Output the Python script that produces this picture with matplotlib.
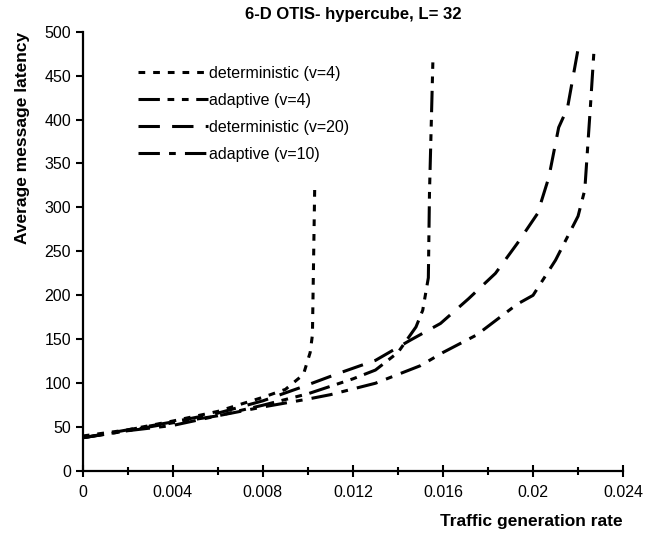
import numpy as np
import matplotlib.pyplot as plt
from matplotlib.ticker import MultipleLocator

plt.rcParams['font.family'] = ['Liberation Sans', 'DejaVu Sans']

# deterministic (v=4)
det4_x = [0, 0.002, 0.004, 0.006, 0.008, 0.009, 0.0098, 0.0101, 0.0102, 0.0103]
det4_y = [40, 47, 57, 68, 84, 93, 110, 135, 155, 320]

# adaptive (v=4)
ad4_x = [0, 0.002, 0.004, 0.006, 0.008, 0.010, 0.012, 0.013, 0.014, 0.0148, 0.0151, 0.01535, 0.0154, 0.01555]
ad4_y = [38, 46, 55, 63, 75, 88, 105, 115, 135, 164, 183, 220, 316, 465]

# deterministic (v=20)
det20_x = [0, 0.002, 0.004, 0.006, 0.008, 0.00966, 0.01144, 0.013, 0.01455, 0.01589,
           0.01713, 0.01833, 0.0193, 0.0202, 0.0207, 0.02114, 0.02153, 0.0220]
det20_y = [38, 47, 56, 66, 80, 95, 112, 126, 149, 168, 196, 225, 259, 293, 334, 391, 413, 480]

# adaptive (v=10)
ad10_x = [0, 0.002, 0.004, 0.006, 0.008, 0.010, 0.011, 0.013, 0.015, 0.016, 0.0175,
          0.0193, 0.0200, 0.0210, 0.0220, 0.0223, 0.02255, 0.0227]
ad10_y = [38, 46, 52, 63, 73, 82, 87, 100, 120, 135, 155, 190, 200, 240, 290, 320, 415, 475]

fig = plt.figure(figsize=(6.47, 5.36), dpi=100)
ax = fig.add_axes([0.128, 0.121, 0.835, 0.82])

lw = 2.2
ax.plot(det4_x, det4_y, color='black', lw=lw, dashes=(2.2, 2.6), label='deterministic (v=4)')
ax.plot(ad4_x, ad4_y, color='black', lw=lw, dashes=(7, 2.5, 2.2, 2.5, 2.2, 2.5), label='adaptive (v=4)')
ax.plot(det20_x, det20_y, color='black', lw=lw, dashes=(7, 4), label='deterministic (v=20)')
ax.plot(ad10_x, ad10_y, color='black', lw=lw, dashes=(7, 3, 2.2, 3), label='adaptive (v=10)')

ax.set_xlim(0, 0.024)
ax.set_ylim(0, 500)
ax.xaxis.set_minor_locator(MultipleLocator(0.002))
ax.yaxis.set_major_locator(MultipleLocator(50))
ax.set_xticks([0, 0.004, 0.008, 0.012, 0.016, 0.02, 0.024])
ax.set_xticklabels(['0', '0.004', '0.008', '0.012', '0.016', '0.02', '0.024'])

for s in ['top', 'right']:
    ax.spines[s].set_visible(False)
for s in ['left', 'bottom']:
    ax.spines[s].set_linewidth(1.6)

ax.tick_params(axis='x', which='major', direction='inout', length=8, width=1.5, labelsize=11.5, pad=6)
ax.tick_params(axis='x', which='minor', direction='inout', length=6, width=1.5)
ax.tick_params(axis='y', which='major', direction='out', length=5, width=1.5, labelsize=11.5)

ax.set_title('6-D OTIS- hypercube, L= 32', fontsize=12, fontweight='bold', pad=9)
ax.set_xlabel('Traffic generation rate', fontsize=12.5, fontweight='bold', loc='right', labelpad=10)
ax.set_ylabel('Average message latency', fontsize=12.5, fontweight='bold', loc='top', labelpad=10)

ax.legend(loc='upper left', bbox_to_anchor=(0.075, 0.955), frameon=False, fontsize=11.5,
          handlelength=4.4, handletextpad=0.05, labelspacing=0.75)

fig.savefig('out.png', dpi=100)
